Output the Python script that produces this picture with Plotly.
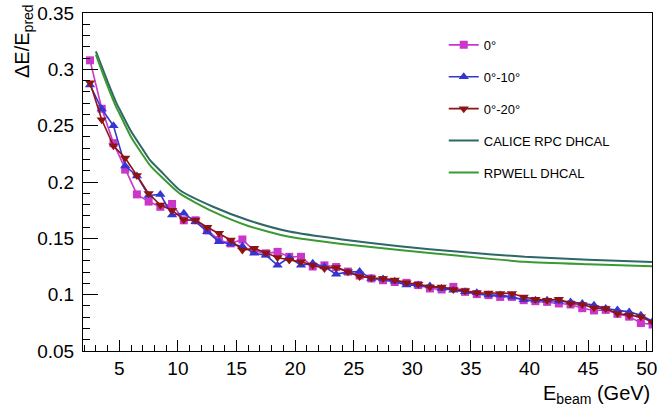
import plotly.graph_objects as go

# ---------------- data ----------------
energies = [2.5, 3.5, 4.5, 5.5, 6.5, 7.5, 8.5, 9.5, 10.5, 11.5, 12.5, 13.5, 14.5, 15.5,
            16.5, 17.5, 18.5, 19.5, 20.5, 21.5, 22.5, 23.5, 24.5, 25.5, 26.5, 27.5,
            28.5, 29.5, 30.5, 31.5, 32.5, 33.5, 34.5, 35.5, 36.5, 37.5, 38.5, 39.5,
            40.5, 41.5, 42.5, 43.5, 44.5, 45.5, 46.5, 47.5, 48.5, 49.5, 50.5]

res_0 = [0.308, 0.265, 0.2345, 0.211, 0.189, 0.1826, 0.178, 0.1805, 0.166, 0.166,
         0.157, 0.1485, 0.1455, 0.149, 0.139, 0.1367, 0.138, 0.1336, 0.1336, 0.125,
         0.126, 0.1245, 0.1205, 0.117, 0.1144, 0.1128, 0.1112, 0.1105, 0.1085, 0.1055,
         0.1046, 0.1069, 0.1025, 0.1005, 0.0996, 0.098, 0.098, 0.0951, 0.0942, 0.0936,
         0.0922, 0.0913, 0.088, 0.086, 0.0865, 0.083, 0.0805, 0.0748, 0.0735]

res_0_10 = [0.286, 0.2648, 0.2499, 0.2143, 0.2054, 0.1880, 0.1890, 0.1707, 0.1722, 0.1648,
            0.1559, 0.147, 0.145, 0.143, 0.1367, 0.135, 0.1262, 0.133, 0.1262, 0.1278,
            0.1247, 0.1182, 0.120, 0.1205, 0.1144, 0.114, 0.1118, 0.1085, 0.1085, 0.1076,
            0.1055, 0.104, 0.1025, 0.1016, 0.0996, 0.0996, 0.098, 0.0955, 0.0951, 0.0951,
            0.0942, 0.0936, 0.0922, 0.0907, 0.0877, 0.0863, 0.0847, 0.0818, 0.0765]

res_0_20 = [0.288, 0.2552, 0.2321, 0.2212, 0.2058, 0.1897, 0.1796, 0.175, 0.1665, 0.1663,
            0.1598, 0.1545, 0.1485, 0.1396, 0.1411, 0.1372, 0.133, 0.1307, 0.1292, 0.1262,
            0.1233, 0.1242, 0.1203, 0.1162, 0.1148, 0.1144, 0.1131, 0.1105, 0.1093, 0.1069,
            0.1069, 0.1046, 0.1034, 0.1016, 0.1015, 0.1011, 0.1011, 0.098, 0.096, 0.0951,
            0.096, 0.0922, 0.0913, 0.0883, 0.0877, 0.0833, 0.0818, 0.0803, 0.0755]

curve_e = [3, 4, 4.75, 5, 6, 7, 7.6, 8.5, 10.2, 13, 16, 19.5, 24, 28.9, 34, 39.6, 45, 50.45]
calice = [0.316, 0.289, 0.270, 0.265, 0.245, 0.229, 0.2197, 0.210, 0.1924, 0.178, 0.166,
          0.156, 0.149, 0.143, 0.138, 0.1336, 0.131, 0.129]
rpwell = [0.313, 0.285, 0.266, 0.261, 0.240, 0.224, 0.215, 0.2055, 0.1894, 0.1737, 0.161,
          0.1514, 0.145, 0.1396, 0.1345, 0.1292, 0.127, 0.1253]

x_ticks = [5, 10, 15, 20, 25, 30, 35, 40, 45, 50]
y_ticks = [0.05, 0.1, 0.15, 0.2, 0.25, 0.3, 0.35]
y_tick_text = ["0.05", "0.1", "0.15", "0.2", "0.25", "0.3", "0.35"]

# ---------------- figure ----------------
FONT = "Liberation Sans, Arial, Helvetica, sans-serif"
fig = go.Figure()

fig.add_trace(go.Scatter(x=curve_e, y=calice, mode="lines", name="CALICE RPC DHCAL",
                         line=dict(color="#2f6666", width=2, shape="spline", smoothing=0.6),
                         legendrank=4, legendgroup="g4"))
fig.add_trace(go.Scatter(x=curve_e, y=rpwell, mode="lines", name="RPWELL DHCAL",
                         line=dict(color="#3a9a32", width=2, shape="spline", smoothing=0.6),
                         legendrank=5, legendgroup="g5"))
fig.add_trace(go.Scatter(x=energies, y=res_0, mode="lines+markers", name="0°",
                         line=dict(color="#c936c9", width=1.6),
                         marker=dict(symbol="square", size=8, color="#c936c9"),
                         legendrank=1, legendgroup="g1"))
fig.add_trace(go.Scatter(x=energies, y=res_0_10, mode="lines+markers", name="0°-10°",
                         line=dict(color="#3535cf", width=1.6),
                         marker=dict(symbol="triangle-up", size=9, color="#3535cf"),
                         legendrank=2, legendgroup="g2"))
fig.add_trace(go.Scatter(x=energies, y=res_0_20, mode="lines+markers", name="0°-20°",
                         line=dict(color="#8e1414", width=1.6),
                         marker=dict(symbol="triangle-down", size=9, color="#8e1414"),
                         legendrank=3, legendgroup="g3"))

fig.update_layout(
    width=657, height=408,
    margin=dict(l=83, r=5, t=13, b=57, autoexpand=False),
    paper_bgcolor="white", plot_bgcolor="white",
    font=dict(family=FONT, color="black"),
    showlegend=True,
    legend=dict(x=0.634, y=0.95, xanchor="left", yanchor="top",
                font=dict(size=13, family=FONT), tracegroupgap=12,
                bgcolor="rgba(255,255,255,0)", itemwidth=30),
    xaxis=dict(range=[1.9, 50.45], tickvals=x_ticks, ticks="inside", ticklen=11,
               tickcolor="black", showline=True, linecolor="black", linewidth=1,
               mirror=True, showgrid=False, zeroline=False, ticklabeloverflow="allow",
               tickfont=dict(size=19, family=FONT),
               minor=dict(ticks="inside", ticklen=6, dtick=1, tickcolor="black", showgrid=False)),
    yaxis=dict(range=[0.05, 0.35], tickvals=y_ticks, ticktext=y_tick_text, ticks="inside",
               ticklen=15, tickcolor="black", showline=True, linecolor="black", linewidth=1,
               mirror=True, showgrid=False, zeroline=False, ticklabelstandoff=4,
               tickfont=dict(size=19, family=FONT),
               minor=dict(ticks="inside", ticklen=7, dtick=0.01, tickcolor="black", showgrid=False)),
    annotations=[
        dict(text="ΔE/E<sub>pred</sub>", xref="paper", yref="paper",
             x=(24 - 83) / 569, y=(351 - 2) / 338, xanchor="center", yanchor="top",
             textangle=-90, showarrow=False, font=dict(size=20, family=FONT)),
        dict(text="E<sub>beam</sub> (GeV)", xref="paper", yref="paper",
             x=1.0, y=(351 - 380) / 338, xanchor="right", yanchor="top",
             showarrow=False, font=dict(size=20, family=FONT)),
    ],
)

fig.write_html("out.html", config={"displayModeBar": False},
               post_script="document.body.style.margin='0';document.body.style.overflow='hidden';")
